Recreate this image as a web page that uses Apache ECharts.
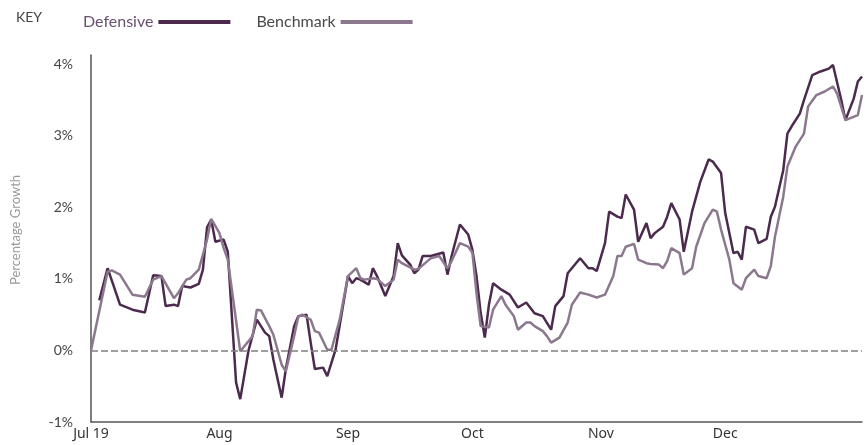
<!DOCTYPE html>
<html>
<head>
<meta charset="utf-8">
<script src="https://cdn.jsdelivr.net/npm/echarts@6/dist/echarts.min.js"></script>
<style>html,body{margin:0;padding:0;background:#fff;}#c{width:868px;height:445px;}</style>
</head>
<body>
<div id="c"></div>
<script>
// Defensive series (dates, % growth)
const defensiveDates = [
 '2019-07-03','2019-07-05','2019-07-08','2019-07-11','2019-07-14','2019-07-16','2019-07-18','2019-07-19',
 '2019-07-21','2019-07-22','2019-07-23','2019-07-25','2019-07-27','2019-07-28','2019-07-29','2019-07-30',
 '2019-07-31','2019-08-02','2019-08-03','2019-08-05','2019-08-06','2019-08-08','2019-08-10','2019-08-12',
 '2019-08-13','2019-08-14','2019-08-16','2019-08-17','2019-08-19','2019-08-20','2019-08-22','2019-08-23',
 '2019-08-24','2019-08-26','2019-08-27','2019-08-29','2019-09-01','2019-09-02','2019-09-03','2019-09-04',
 '2019-09-06','2019-09-07','2019-09-08','2019-09-10','2019-09-12','2019-09-13','2019-09-14','2019-09-16',
 '2019-09-17','2019-09-18','2019-09-19','2019-09-21','2019-09-24','2019-09-25','2019-09-26','2019-09-28',
 '2019-09-30','2019-10-01','2019-10-02','2019-10-03','2019-10-04','2019-10-05','2019-10-06','2019-10-08',
 '2019-10-10','2019-10-12','2019-10-14','2019-10-16','2019-10-18','2019-10-20','2019-10-21','2019-10-23',
 '2019-10-24','2019-10-27','2019-10-29','2019-10-30','2019-10-31','2019-11-02','2019-11-03','2019-11-05',
 '2019-11-06','2019-11-07','2019-11-09','2019-11-10','2019-11-12','2019-11-13','2019-11-14','2019-11-16',
 '2019-11-17','2019-11-18','2019-11-20','2019-11-21','2019-11-23','2019-11-25','2019-11-27','2019-11-28',
 '2019-11-30','2019-12-01','2019-12-03','2019-12-04','2019-12-05','2019-12-06','2019-12-08','2019-12-09',
 '2019-12-11','2019-12-12','2019-12-13','2019-12-15','2019-12-16','2019-12-17','2019-12-19','2019-12-20',
 '2019-12-22','2019-12-24','2019-12-26','2019-12-27','2019-12-29','2019-12-30','2020-01-01','2020-01-02',
 '2020-01-03'
];
const defensiveValues = [
 0.70,1.15,0.64,0.57,0.53,1.05,1.04,0.62,
 0.64,0.62,0.90,0.88,0.93,1.13,1.72,1.83,
 1.52,1.55,1.38,-0.45,-0.68,0.00,0.43,0.25,
 0.20,-0.13,-0.66,-0.26,0.34,0.48,0.50,0.11,
 -0.26,-0.24,-0.36,0.01,1.04,0.94,1.01,0.99,
 0.92,1.15,1.04,0.76,1.04,1.50,1.33,1.20,
 1.08,1.13,1.32,1.32,1.37,1.06,1.32,1.76,
 1.62,1.41,1.04,0.53,0.18,0.64,0.94,0.85,
 0.78,0.60,0.67,0.52,0.48,0.29,0.62,0.76,
 1.08,1.29,1.15,1.15,1.11,1.50,1.94,1.87,
 1.85,2.18,1.97,1.52,1.78,1.57,1.64,1.73,
 1.87,2.06,1.83,1.38,1.94,2.36,2.67,2.64,
 2.48,1.92,1.36,1.38,1.27,1.73,1.69,1.50,
 1.56,1.87,2.01,2.52,3.03,3.13,3.31,3.50,
 3.85,3.90,3.94,3.99,3.50,3.22,3.52,3.76,
 3.83
];
// Benchmark series (dates, % growth)
const benchmarkDates = [
 '2019-07-01','2019-07-05','2019-07-06','2019-07-08','2019-07-11','2019-07-14','2019-07-16','2019-07-18',
 '2019-07-21','2019-07-22','2019-07-24','2019-07-25','2019-07-27','2019-07-29','2019-07-30','2019-08-01',
 '2019-08-02','2019-08-03','2019-08-06','2019-08-09','2019-08-10','2019-08-11','2019-08-13','2019-08-14',
 '2019-08-16','2019-08-17','2019-08-19','2019-08-20','2019-08-21','2019-08-23','2019-08-24','2019-08-25',
 '2019-08-27','2019-08-28','2019-08-30','2019-09-01','2019-09-03','2019-09-04','2019-09-05','2019-09-07',
 '2019-09-08','2019-09-10','2019-09-12','2019-09-13','2019-09-14','2019-09-16','2019-09-17','2019-09-18',
 '2019-09-21','2019-09-23','2019-09-25','2019-09-26','2019-09-28','2019-09-30','2019-10-01','2019-10-02',
 '2019-10-03','2019-10-05','2019-10-06','2019-10-08','2019-10-09','2019-10-11','2019-10-12','2019-10-14',
 '2019-10-15','2019-10-16','2019-10-18','2019-10-19','2019-10-20','2019-10-22','2019-10-24','2019-10-25',
 '2019-10-27','2019-10-29','2019-10-31','2019-11-02','2019-11-04','2019-11-05','2019-11-06','2019-11-07',
 '2019-11-09','2019-11-10','2019-11-12','2019-11-13','2019-11-15','2019-11-16','2019-11-17','2019-11-18',
 '2019-11-20','2019-11-21','2019-11-23','2019-11-24','2019-11-26','2019-11-28','2019-11-29','2019-11-30',
 '2019-12-02','2019-12-03','2019-12-05','2019-12-06','2019-12-08','2019-12-09','2019-12-11','2019-12-12',
 '2019-12-13','2019-12-15','2019-12-16','2019-12-18','2019-12-20','2019-12-21','2019-12-23','2019-12-25',
 '2019-12-27','2019-12-28','2019-12-30','2020-01-02','2020-01-03'
];
const benchmarkValues = [
 0.00,1.10,1.12,1.06,0.78,0.75,0.99,1.04,
 0.73,0.80,0.99,1.01,1.13,1.55,1.84,1.64,
 1.43,1.27,-0.01,0.20,0.57,0.56,0.34,0.22,
 -0.20,-0.29,0.20,0.47,0.50,0.43,0.27,0.25,
 0.01,0.01,0.43,1.04,1.15,1.01,0.99,1.01,
 1.00,0.90,0.99,1.27,1.22,1.16,1.13,1.14,
 1.29,1.32,1.15,1.25,1.50,1.45,1.37,0.80,
 0.34,0.32,0.57,0.76,0.64,0.48,0.29,0.39,
 0.39,0.34,0.27,0.20,0.11,0.18,0.39,0.64,
 0.81,0.78,0.74,0.78,1.04,1.32,1.32,1.45,
 1.49,1.27,1.22,1.21,1.20,1.15,1.25,1.43,
 1.36,1.06,1.15,1.45,1.78,1.97,1.94,1.69,
 1.27,0.94,0.85,1.01,1.13,1.04,1.01,1.18,
 1.59,2.15,2.57,2.85,3.03,3.41,3.57,3.62,
 3.69,3.59,3.22,3.29,3.57
];
const yTicks = [-1, 0, 1, 2, 3, 4];
const monthLabels = ['', 'Feb', 'Mar', 'Apr', 'May', 'Jun', 'Jul 19', 'Aug', 'Sep', 'Oct', 'Nov', 'Dec'];
const seriesNames = ['Defensive', 'Benchmark'];

const pair = (ds, vs) => ds.map((d, i) => [d, vs[i]]);

const chart = echarts.init(document.getElementById('c'), null, {renderer: 'canvas'});
chart.setOption({
  animation: false,
  backgroundColor: '#ffffff',
  graphic: [
    {
      type: 'text', left: 16, top: 10,
      style: {text: 'KEY', fill: '#444', font: '14px Lato'}
    },
    {
      type: 'text', x: 16, y: 230, rotation: Math.PI / 2,
      style: {text: 'Percentage Growth', fill: '#999', font: '13px Lato', align: 'center', verticalAlign: 'middle'}
    }
  ],
  legend: {
    left: 78, top: 9,
    align: 'right',
    icon: 'rect',
    itemWidth: 72, itemHeight: 4, itemGap: 26,
    textStyle: {fontFamily: 'Lato', fontSize: 16, color: '#4a4a4a'},
    data: [
      {name: seriesNames[0], textStyle: {color: '#6b4f70'}},
      {name: seriesNames[1], textStyle: {color: '#4a4a4a'}}
    ]
  },
  grid: {left: 91, right: 6, top: 55, bottom: 23, containLabel: false},
  xAxis: {
    type: 'time',
    min: '2019-07-01',
    max: '2020-01-03',
    minInterval: 28 * 86400000,
    maxInterval: 31 * 86400000,
    axisLine: {onZero: false, lineStyle: {color: '#555', width: 1.5}},
    axisTick: {show: false},
    splitLine: {show: false},
    axisLabel: {
      color: '#333', fontFamily: 'Noto Sans', fontSize: 14, margin: 5,
      hideOverlap: false,
      formatter: function (val) { return monthLabels[new Date(val).getMonth()]; }
    }
  },
  yAxis: {
    type: 'value',
    min: -1, max: 4.13, interval: 1,
    axisLine: {show: true, lineStyle: {color: '#555', width: 1.5}},
    axisTick: {show: false},
    splitLine: {show: false},
    axisLabel: {
      color: '#444', fontFamily: 'Lato', fontSize: 14, margin: 18,
      formatter: function (v) { return yTicks.indexOf(Math.round(v * 100) / 100) >= 0 ? v + '%' : ''; }
    }
  },
  series: [
    {
      name: seriesNames[0], type: 'line', showSymbol: false, symbol: 'none',
      data: pair(defensiveDates, defensiveValues),
      color: '#4b2a4e',
      lineStyle: {width: 2.5, color: '#4b2a4e'},
      z: 3,
      markLine: {
        silent: true, symbol: 'none', label: {show: false},
        lineStyle: {type: [7, 3], color: '#808080', width: 1.5},
        data: [{yAxis: 0}]
      }
    },
    {
      name: seriesNames[1], type: 'line', showSymbol: false, symbol: 'none',
      data: pair(benchmarkDates, benchmarkValues),
      color: '#8b788e',
      lineStyle: {width: 2.5, color: '#8b788e'},
      z: 4
    }
  ]
});
</script>
</body>
</html>
